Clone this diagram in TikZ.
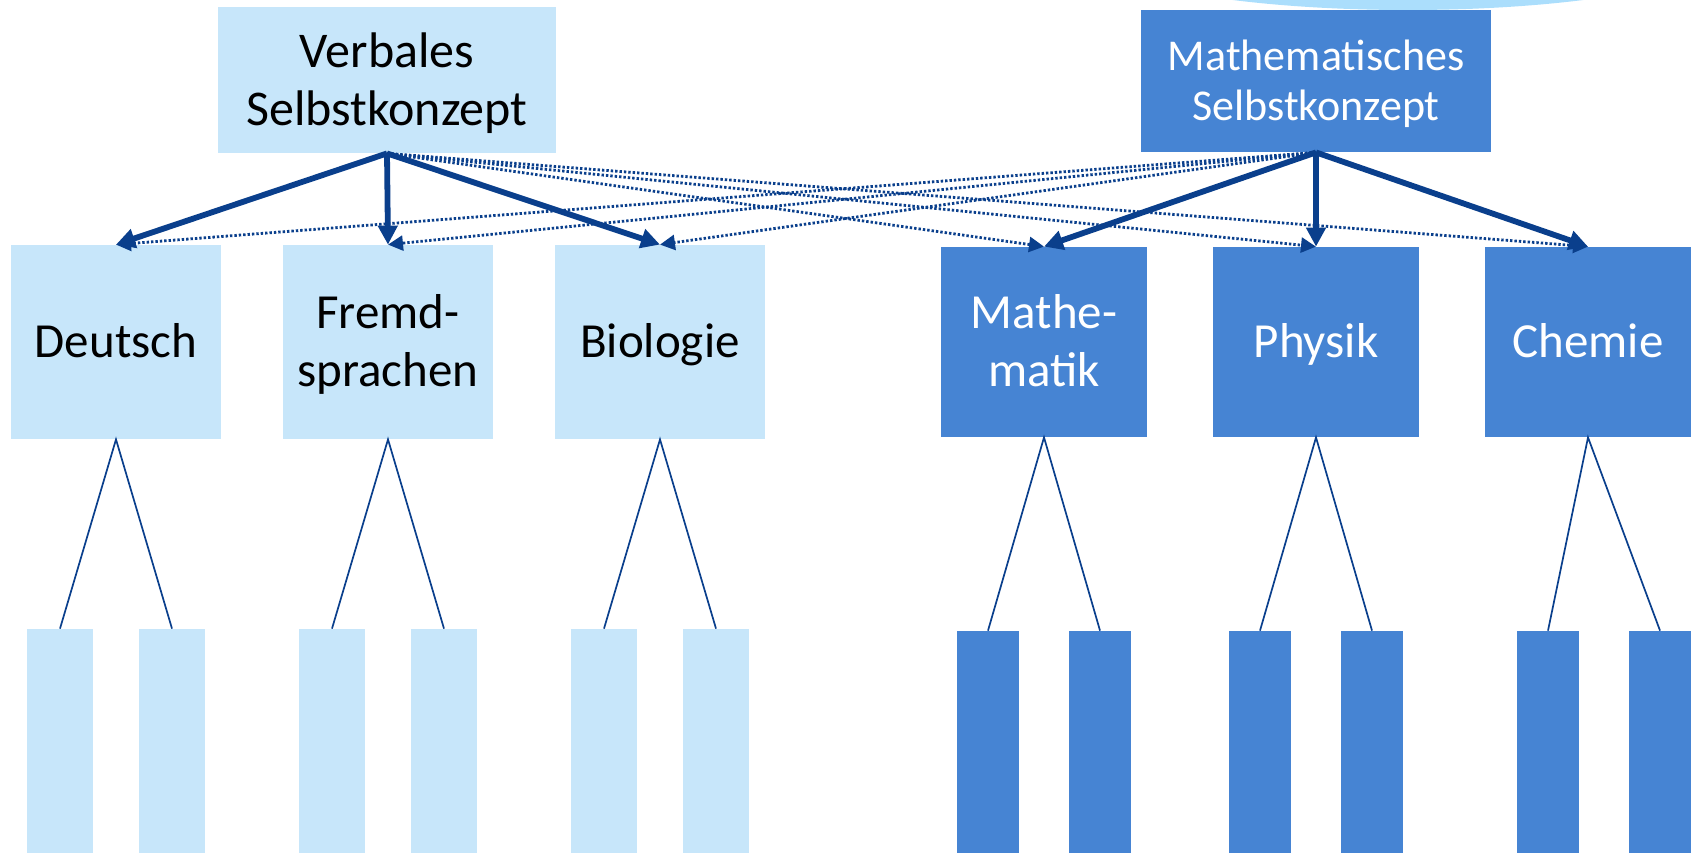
\documentclass[tikz,border=0pt]{standalone}
\usepackage{fontspec}
\setmainfont{Carlito}
\usetikzlibrary{arrows.meta}
\definecolor{lightbox}{RGB}{199,230,250}
\definecolor{darkbox}{RGB}{70,132,211}
\definecolor{arrowblue}{RGB}{10,63,140}
\definecolor{ellblue}{RGB}{171,222,252}
\begin{document}
\begin{tikzpicture}[x=0.5pt,y=-0.5pt,
  lbox/.style={fill=lightbox, draw=none, inner sep=0pt, align=center, text=black,
    font=\fontsize{24.5}{29}\selectfont, text height=18pt, text depth=2.2pt},
  dbox/.style={fill=darkbox, draw=none, inner sep=0pt, align=center, text=white,
    font=\fontsize{24.5}{29}\selectfont, text height=18pt, text depth=2.2pt},
  twoline/.style={text height=47pt},
  topl/.style={lbox, minimum width=169pt, minimum height=73pt, font=\fontsize{25}{29}\selectfont,
    text height=47.4pt},
  topd/.style={dbox, minimum width=175pt, minimum height=71pt, font=\fontsize{22}{25}\selectfont,
    text height=41pt, text depth=2pt},
  midl/.style={lbox, minimum width=105pt, minimum height=97pt},
  midd/.style={dbox, minimum width=103pt, minimum height=95pt},
  leafl/.style={fill=lightbox, draw=none, inner sep=0pt, minimum width=33pt, minimum height=112pt},
  leafd/.style={fill=darkbox, draw=none, inner sep=0pt, minimum width=31pt, minimum height=112pt},
  thickarrow/.style={draw=arrowblue, line width=2.9pt, -{Triangle[length=9.5pt,width=9.5pt]}},
  dotarrow/.style={draw=arrowblue, line width=1.4pt, dash pattern=on 1.2pt off 1pt, -{Triangle[length=7.5pt,width=7.5pt]}},
  thinline/.style={draw=arrowblue, line width=0.85pt}
]
\useasboundingbox (0,0) rectangle (1696,852);
\begin{scope}
\clip (0,0) rectangle (1696,852);
\fill[ellblue] (1408,-56) ellipse [x radius=331, y radius=66];
\end{scope}

% top nodes
\node[topl] (V) at (387,80) {Verbales\\Selbstkonzept};
\node[topd] (M) at (1316,81) {Mathematisches\\Selbstkonzept};

% middle nodes
\node[midl] (De) at (116,342) {Deutsch};
\node[midl, twoline] (Fr) at (388,342) {Fremd-\\sprachen};
\node[midl] (Bi) at (660,342) {Biologie};
\node[midd, twoline] (Ma) at (1044,342) {Mathe-\\matik};
\node[midd] (Ph) at (1316,342) {Physik};
\node[midd] (Ch) at (1588,342) {Chemie};

% leaves
\node[leafl] (De1) at (60,741) {};
\node[leafl] (De2) at (172,741) {};
\node[leafl] (Fr1) at (332,741) {};
\node[leafl] (Fr2) at (444,741) {};
\node[leafl] (Bi1) at (604,741) {};
\node[leafl] (Bi2) at (716,741) {};
\node[leafd] (Ma1) at (988,743) {};
\node[leafd] (Ma2) at (1100,743) {};
\node[leafd] (Ph1) at (1260,743) {};
\node[leafd] (Ph2) at (1372,743) {};
\node[leafd] (Ch1) at (1548,743) {};
\node[leafd] (Ch2) at (1660,743) {};

% thin connectors
\foreach \p in {De,Fr,Bi,Ma,Ph,Ch}{
  \draw[thinline] (\p1.north) -- (\p.south) -- (\p2.north);
}

% dotted cross arrows
\foreach \t in {Ma,Ph,Ch}{
  \draw[dotarrow] (V.south) -- (\t.north);
}
\foreach \t in {De,Fr,Bi}{
  \draw[dotarrow] (M.south) -- (\t.north);
}

% thick arrows
\foreach \t in {De,Fr,Bi}{
  \draw[thickarrow] (V.south) -- (\t.north);
}
\foreach \t in {Ma,Ph,Ch}{
  \draw[thickarrow] (M.south) -- (\t.north);
}
\end{tikzpicture}
\end{document}
